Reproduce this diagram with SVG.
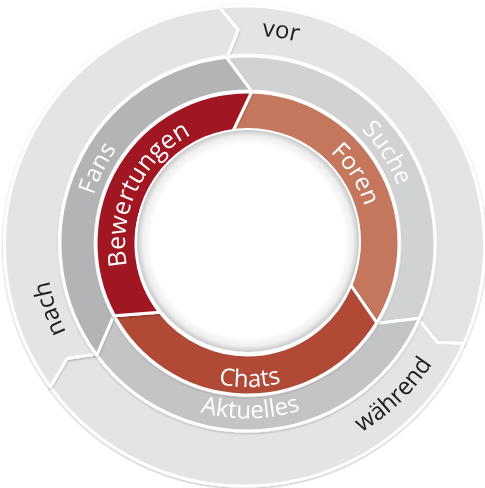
<svg xmlns="http://www.w3.org/2000/svg" width="485" height="488" viewBox="0 0 485 488">
<style>
.seg{stroke:#fff;stroke-width:3;stroke-linejoin:round}
.ring{filter:url(#sh)}
.t{font-family:"Open Sans","Liberation Sans",sans-serif;font-size:24px}
.big{font-size:25px}
.w{fill:#fff}
.k{fill:#1d1d1b}
</style>
<defs>
<filter id="sh" x="-10%" y="-10%" width="120%" height="120%">
<feDropShadow dx="0" dy="1" stdDeviation="1.2" flood-color="#000" flood-opacity="0.3"/>
</filter>
<radialGradient id="hole" cx="50%" cy="50%" r="50%">
<stop offset="0.87" stop-color="#ffffff"/>
<stop offset="0.95" stop-color="#eeeeee"/>
<stop offset="1" stop-color="#c8c8c8"/>
</radialGradient>
<path id="pVor" d="M42.06,210.96 A208,208 0 0 1 452.94,276.04"/>
<path id="pSuche" d="M159.27,107.64 A162,162 0 0 1 335.73,379.36"/>
<path id="pFans" d="M174.96,388.35 A162,162 0 0 1 320.04,98.65"/>
<path id="pBew" d="M193.58,354.05 A123,123 0 0 1 301.42,132.95"/>
<path id="pForen" d="M181.05,139.99 A123,123 0 0 1 313.95,347.01"/>
<path id="pNach" d="M311.24,436.23 A203,203 0 0 1 183.76,50.77"/>
<path id="pChats" d="M104.02,246 A143.5,143.5 0 0 0 390.98,241"/>
<path id="pAkt" d="M71.53,246.57 A176,176 0 0 0 423.47,240.43"/>
<path id="pWaehr" d="M87.81,397.71 A222,222 0 0 0 407.19,89.29"/>
</defs>

<g id="vor" class="ring">
<path class="seg" fill="#e3e4e4" d="M219.41,7.32 A240,240 0 0 1 463.75,343.62 L437.32,342.31 L419.70,320.17 A188.5,188.5 0 0 0 227.80,56.03 L238.17,29.70 Z"/>
<text class="t k"><textPath href="#pVor" startOffset="50%" text-anchor="middle">vor</textPath></text>
</g>
<g id="waehrend" class="ring">
<path class="seg" fill="#e3e4e4" d="M463.75,343.62 A240,240 0 0 1 50.34,387.07 L67.01,358.48 L95.00,354.30 A188.5,188.5 0 0 0 419.70,320.17 L437.32,342.31 Z"/>
<text class="t k"><textPath href="#pWaehr" startOffset="50%" text-anchor="middle">während</textPath></text>
</g>
<g id="nach" class="ring">
<path class="seg" fill="#e3e4e4" d="M50.34,387.07 A240,240 0 0 1 219.41,7.32 L238.17,29.70 L227.80,56.03 A188.5,188.5 0 0 0 95.00,354.30 L67.01,358.48 Z"/>
<text class="t k"><textPath href="#pNach" startOffset="50%" text-anchor="middle">nach</textPath></text>
</g>

<g id="suche" class="ring">
<path class="seg" fill="#d1d2d4" d="M226.27,57.21 A187.5,187.5 0 0 1 419.45,318.27 L377.53,323.18 A152.5,152.5 0 0 0 251.49,91.05 Z"/>
<text class="t w"><textPath href="#pSuche" startOffset="50%" text-anchor="middle">Suche</textPath></text>
</g>
<g id="aktuelles" class="ring">
<path class="seg" fill="#c3c4c6" d="M419.45,318.27 A187.5,187.5 0 0 1 96.78,355.03 L113.48,316.27 A152.5,152.5 0 0 0 377.53,323.18 Z"/>
<text class="t w"><textPath href="#pAkt" startOffset="50%" text-anchor="middle">Aktuelles</textPath></text>
</g>
<g id="fans" class="ring">
<path class="seg" fill="#b3b4b6" d="M96.78,355.03 A187.5,187.5 0 0 1 226.27,57.21 L251.49,91.05 A152.5,152.5 0 0 0 113.48,316.27 Z"/>
<text class="t w"><textPath href="#pFans" startOffset="50%" text-anchor="middle">Fans</textPath></text>
</g>

<g id="foren" class="ring">
<path class="seg" fill="#c4775c" d="M251.47,92.05 A151.5,151.5 0 0 1 376.67,322.66 L350.88,285.27 A111.5,111.5 0 0 0 231.98,133.08 Z"/>
<text class="t w"><textPath href="#pForen" startOffset="50%" text-anchor="middle">Foren</textPath></text>
</g>
<g id="chats" class="ring">
<path class="seg" fill="#b04a36" d="M376.67,322.66 A151.5,151.5 0 0 1 114.36,315.79 L159.64,312.15 A111.5,111.5 0 0 0 350.88,285.27 Z"/>
<text class="t w"><textPath href="#pChats" startOffset="50%" text-anchor="middle">Chats</textPath></text>
</g>
<g id="bewertungen" class="ring">
<path class="seg" fill="#a01920" d="M114.36,315.79 A151.5,151.5 0 0 1 251.47,92.05 L231.98,133.08 A111.5,111.5 0 0 0 159.64,312.15 Z"/>
<text class="t big w"><textPath href="#pBew" startOffset="50%" text-anchor="middle">Bewertungen</textPath></text>
</g>

<g id="center">
<circle cx="248" cy="241" r="113" fill="#fff"/>
<circle cx="248" cy="241" r="111" fill="url(#hole)"/>
</g>
</svg>
